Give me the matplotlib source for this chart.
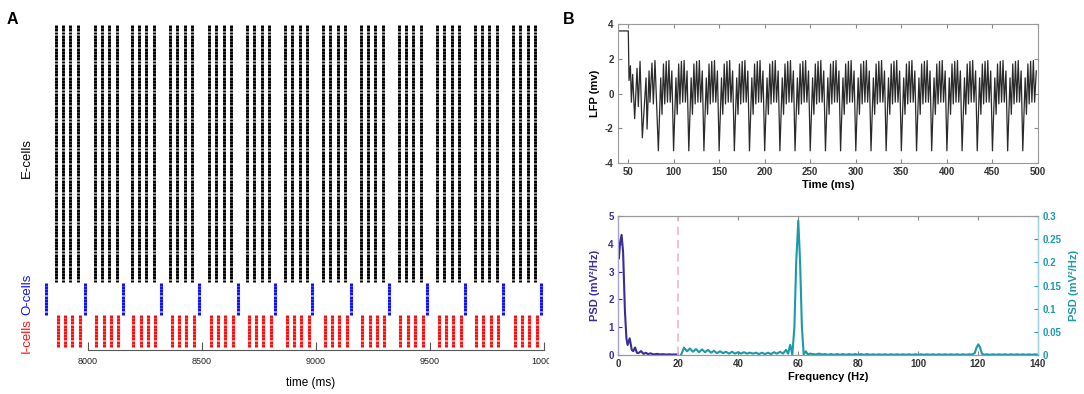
import numpy as np
import matplotlib
matplotlib.use('Agg')
import matplotlib.pyplot as plt
from matplotlib.transforms import Bbox, TransformedBbox

plt.rcParams['font.family'] = ['Liberation Sans', 'DejaVu Sans']
plt.rcParams['axes.unicode_minus'] = False

W, H = 1084, 394

# ---- panel A: raster (times in ms) ----
e_onsets = [7858, 8029, 8191, 8359, 8530, 8697, 8864, 9031, 9196, 9363, 9530, 9695, 9864]
i_onsets = [7867, 8036, 8198, 8366, 8537, 8704, 8871, 9038, 9203, 9370, 9537, 9702, 9871]
burst_offsets = [0, 32, 64, 97]
o_spikes = [7814, 7986, 8154, 8319, 8486, 8656, 8821, 8984, 9152, 9319, 9486, 9653, 9820, 9987]
n_i, n_o, n_e = 10, 10, 80
time_ticks = [8000, 8500, 9000, 9500, 10000]

# ---- panel B top: LFP ----
lfp_start_t = [39, 50.3, 51.1, 52.6, 53.7, 55.1, 57.3, 59.9, 61.3, 63.2, 65.7, 69.8, 70.9, 73.1, 74.1, 76.3, 77.8, 79.6]
lfp_start_v = [3.6, 3.6, 0.75, 1.6, -0.5, 1.1, -1.45, 1.45, -0.75, 1.85, -2.55, 0.9, -2.05, 1.3, -0.5, 1.75, -0.6, 1.9]
trough_t = [83.3, 100.0, 116.7, 133.3, 150.0, 166.7, 183.3, 200.0, 216.7, 233.3, 250.0, 266.7,
            283.3, 300.0, 316.7, 333.3, 350.0, 366.7, 383.3, 400.0, 416.7, 433.3, 450.0, 466.7, 483.3]
cycle_dt = [0, 2.6, 4.0, 5.6, 7.0, 8.6, 10.0, 11.6, 13.0, 14.8]
cycle_v = [-3.3, 0.9, -1.2, 1.7, -0.6, 1.85, -0.5, 1.9, -0.5, 1.3]

# ---- panel B bottom: PSD ----
psd_lo_f = [0.3, 0.7, 1.2, 1.7, 2.3, 2.8, 3.2, 3.9, 4.6, 5.1, 5.7, 6.3, 6.8, 7.7, 8.5, 9.3, 10.0,
            10.8, 11.9, 12.9, 14.0, 15.0, 16.0, 17.0, 18.0, 19.0, 20.0]
psd_lo_v = [3.48, 4.05, 4.32, 3.7, 1.6, 0.6, 0.36, 0.6, 0.18, 0.14, 0.27, 0.08, 0.07, 0.14, 0.04, 0.08, 0.03,
            0.06, 0.02, 0.04, 0.02, 0.03, 0.015, 0.025, 0.015, 0.02, 0.02]
psd_hi_f = [21, 22, 23, 24, 25, 26, 27, 28, 29, 30, 31, 32, 33, 34, 35, 36, 37, 38, 39, 40,
            41, 42, 43, 44, 45, 46, 47, 48, 49, 50, 51, 52, 53, 54, 55, 56,
            56.7, 57.4, 58.1, 58.8, 59.4, 60.1, 60.7, 61.3, 61.9, 62.6, 63.3,
            64, 66, 67, 68, 69, 70, 71, 72, 73, 74, 75, 76, 77, 78, 79, 80, 81, 82, 83, 84,
            85, 86, 87, 88, 89, 90, 91, 92, 93, 94, 95, 96, 97, 98, 99, 100, 101, 102, 103, 104,
            105, 106, 107, 108, 109, 110, 111, 112, 113, 114, 115, 116, 117, 118,
            118.9, 119.5, 120.1, 120.7, 121.3, 122, 123, 124, 125, 126, 127, 128, 129, 130,
            131, 132, 133, 134, 135, 136, 137, 138, 139, 140]
psd_hi_v = [0.0, 0.016, 0.008, 0.014, 0.007, 0.013, 0.006, 0.012, 0.006, 0.011, 0.005, 0.009, 0.004,
            0.008, 0.004, 0.007, 0.003, 0.007, 0.003, 0.006, 0.003, 0.006, 0.003, 0.005, 0.003, 0.005,
            0.002, 0.005, 0.002, 0.005, 0.002, 0.006, 0.003, 0.007, 0.003, 0.011,
            0.003, 0.022, 0.001, 0.06, 0.2, 0.29, 0.2, 0.06, 0.001, 0.008, 0.001,
            0.003, 0.001, 0.003, 0.001, 0.002, 0.0005, 0.002, 0.0005, 0.002, 0.0005, 0.002, 0.0005,
            0.002, 0.0005, 0.002, 0.0005, 0.002, 0.0005, 0.002, 0.0005, 0.0015, 0.0005, 0.0015, 0.0005,
            0.0015, 0.0005, 0.0015, 0.0005, 0.0015, 0.0005, 0.0015, 0.0005, 0.0015, 0.0005, 0.0015,
            0.0005, 0.0015, 0.0005, 0.0015, 0.0005, 0.0015, 0.0005, 0.0015, 0.0005, 0.0015, 0.0005,
            0.0015, 0.0005, 0.0015, 0.0005, 0.0015, 0.0005, 0.0015, 0.001,
            0.004, 0.016, 0.023, 0.016, 0.003, 0.0005, 0.0015, 0.0005, 0.0015, 0.0005, 0.0015, 0.0005,
            0.0015, 0.0005, 0.0015, 0.0005, 0.0015, 0.0005, 0.0015, 0.0005, 0.0015, 0.0005, 0.0015, 0.0005]

purple = '#3b2d96'
teal = '#1b9aaa'


def px_rect(l, t, r, b):
    return [l / W, 1 - b / H, (r - l) / W, (b - t) / H]


fig = plt.figure(figsize=(W / 100, H / 100), dpi=100)

# panel A
axA = fig.add_axes(px_rect(40, 22, 550, 350))
e_spikes = [t + d for t in e_onsets for d in burst_offsets]
i_spikes = [t + d for t in i_onsets for d in burst_offsets]
e_rows = np.arange(n_i + n_o + 1, n_i + n_o + n_e + 1)
o_rows = np.arange(n_i + 1, n_i + n_o + 1)
i_rows = np.arange(1, n_i + 1)
axA.eventplot([e_spikes] * n_e, lineoffsets=e_rows, linelengths=0.9, colors='black', linewidths=2.1)
axA.eventplot([o_spikes] * n_o, lineoffsets=o_rows, linelengths=0.92, colors='#1010ff', linewidths=2.2)
axA.eventplot([i_spikes] * n_i, lineoffsets=i_rows, linelengths=0.92, colors='#ff1010', linewidths=2.2)
axA.set_xlim(7789, 10026)
axA.set_ylim(-0.43, 101.43)
for s in ['left', 'top', 'right']:
    axA.spines[s].set_visible(False)
axA.spines['bottom'].set_bounds(8000, 10000)
axA.spines['bottom'].set_color('#555555')
axA.set_yticks([])
axA.set_xticks(time_ticks)
axA.set_xticklabels([str(t) for t in time_ticks])
axA.tick_params(axis='x', direction='in', length=6, color='#555555', labelsize=6.5, pad=5, labelcolor='#222222')
clip = TransformedBbox(Bbox([[0, 0], [549 / W, 1]]), fig.transFigure)
for lbl in axA.get_xticklabels():
    lbl.set_clip_on(True)
    lbl.set_clip_box(clip)

fig.text(311 / W, 1 - 383 / H, 'time (ms)', ha='center', va='center', fontsize=8.5)
fig.text(27 / W, 1 - 158 / H, 'E-cells', rotation=90, ha='center', va='center', fontsize=9.5)
fig.text(27 / W, 1 - 294 / H, 'O-cells', rotation=90, ha='center', va='center', fontsize=9.5, color='#1010ff')
fig.text(27 / W, 1 - 336 / H, 'I-cells', rotation=90, ha='center', va='center', fontsize=9.5, color='#ff1010')
fig.text(12 / W, 1 - 20 / H, 'A', ha='center', va='center', fontsize=11.5, fontweight='bold')
fig.text(569 / W, 1 - 20 / H, 'B', ha='center', va='center', fontsize=11.5, fontweight='bold')

# panel B top: LFP
lfp_t = list(lfp_start_t)
lfp_v = list(lfp_start_v)
for t0 in trough_t:
    for d, v in zip(cycle_dt, cycle_v):
        lfp_t.append(t0 + d)
        lfp_v.append(v)
axL = fig.add_axes(px_rect(618, 24, 1038, 163))
axL.plot(lfp_t, lfp_v, color='#2a2a2a', lw=0.9)
axL.set_xlim(39, 500)
axL.set_ylim(-4, 4)
axL.set_xticks(range(50, 501, 50))
axL.set_yticks([-4, -2, 0, 2, 4])
axL.tick_params(direction='in', top=True, right=True, length=3, color='#888888', labelsize=7, pad=3)
for lbl in axL.get_xticklabels() + axL.get_yticklabels():
    lbl.set_fontweight('bold')
    lbl.set_color('#333333')
for s in axL.spines.values():
    s.set_color('#999999')
axL.set_xlabel('Time (ms)', fontsize=8, fontweight='bold', labelpad=2)
axL.set_ylabel('LFP (mv)', fontsize=8, fontweight='bold', labelpad=4)

# panel B bottom: PSD
axP = fig.add_axes(px_rect(618, 216, 1038, 355))
axP.plot(psd_lo_f, psd_lo_v, color=purple, lw=1.5)
axP.axvline(20, color='#f4b4c6', lw=1.2, ls=(0, (5, 3)))
axP.set_xlim(0, 140)
axP.set_ylim(0, 5)
axP.set_xticks(range(0, 141, 20))
axP.set_yticks(range(0, 6))
axR = axP.twinx()
axR.plot(psd_hi_f, psd_hi_v, color=teal, lw=1.5)
axR.set_ylim(0, 0.3)
r_ticks = [0, 0.05, 0.1, 0.15, 0.2, 0.25, 0.3]
axR.set_yticks(r_ticks)
axR.set_yticklabels(['0', '0.05', '0.1', '0.15', '0.2', '0.25', '0.3'])
axP.tick_params(axis='x', direction='in', top=True, length=3, color='#888888', labelsize=7, pad=3)
axP.tick_params(axis='y', direction='in', length=3, color=purple, labelsize=7, pad=3, labelcolor=purple)
axR.tick_params(axis='y', direction='in', length=3, color=teal, labelsize=7, pad=3, labelcolor=teal)
for lbl in axP.get_xticklabels() + axP.get_yticklabels() + axR.get_yticklabels():
    lbl.set_fontweight('bold')
for lbl in axP.get_xticklabels():
    lbl.set_color('#333333')
axP.spines['top'].set_color('#999999')
axP.spines['bottom'].set_color('#999999')
axR.spines['left'].set_color('#a9a3d2')
axR.spines['right'].set_color('#9fd2d9')
axR.spines['top'].set_color('#999999')
axR.spines['bottom'].set_color('#999999')
axP.set_xlabel('Frequency (Hz)', fontsize=8, fontweight='bold', labelpad=2)
axP.set_ylabel('PSD (mV²/Hz)', fontsize=8, fontweight='bold', color=purple, labelpad=6)
axR.set_ylabel('PSD (mV²/Hz)', fontsize=8, fontweight='bold', color=teal, rotation=90, labelpad=6)

fig.savefig('out.png', dpi=100)
